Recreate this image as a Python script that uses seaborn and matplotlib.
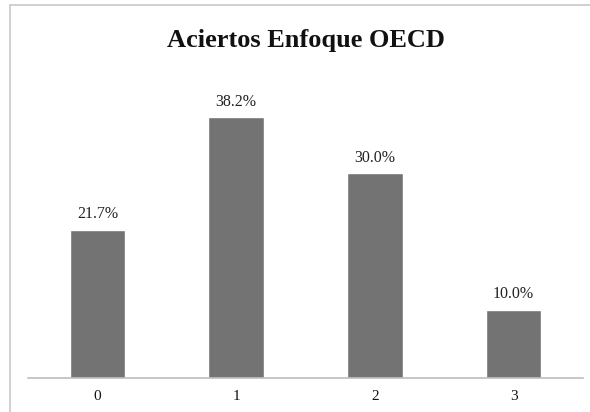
import matplotlib
matplotlib.use("Agg")
import matplotlib.pyplot as plt
import matplotlib.patches as mpatches
import seaborn as sns
import pandas as pd

categories = ["0", "1", "2", "3"]
values = [21.7, 38.2, 30.0, 10.0]
labels = ["21.7%", "38.2%", "30.0%", "10.0%"]

sns.set_style("white")
plt.rcParams["font.family"] = ["Liberation Serif", "DejaVu Serif"]

df = pd.DataFrame({"cat": categories, "val": values})

fig = plt.figure(figsize=(5.9, 4.12), dpi=100)
ax = fig.add_axes([28 / 590, 34 / 412, 555 / 590, 307 / 412])

sns.barplot(data=df, x="cat", y="val", color="#737373", saturation=1,
            width=0.4, ax=ax)
for p, lab in zip(ax.patches, labels):
    ax.text(p.get_x() + p.get_width() / 2, p.get_height() + 1.1, lab,
            ha="center", va="bottom", fontsize=11.5, color="#222222")

ax.set_xlim(-0.5, 3.5)
ax.set_ylim(0, 45)
ax.set_xlabel("")
ax.set_ylabel("")
ax.set_yticks([])
ax.tick_params(axis="x", length=0, labelsize=11, pad=9, colors="#111111")
for s in ["top", "right", "left"]:
    ax.spines[s].set_visible(False)
ax.spines["bottom"].set_color("#bdbdbd")
ax.spines["bottom"].set_linewidth(1.2)

fig.text(306 / 590, 1 - 40 / 412, "Aciertos Enfoque OECD", ha="center",
         va="center", fontsize=19, fontweight="bold", color="#111111")

frame = mpatches.Rectangle((10 / 590, -0.02), 1.0, 1 - 5 / 412 + 0.02,
                           transform=fig.transFigure, fill=False,
                           edgecolor="#c8c8c8", linewidth=1.2, clip_on=False)
fig.patches.append(frame)

fig.savefig("out.png", dpi=100)
